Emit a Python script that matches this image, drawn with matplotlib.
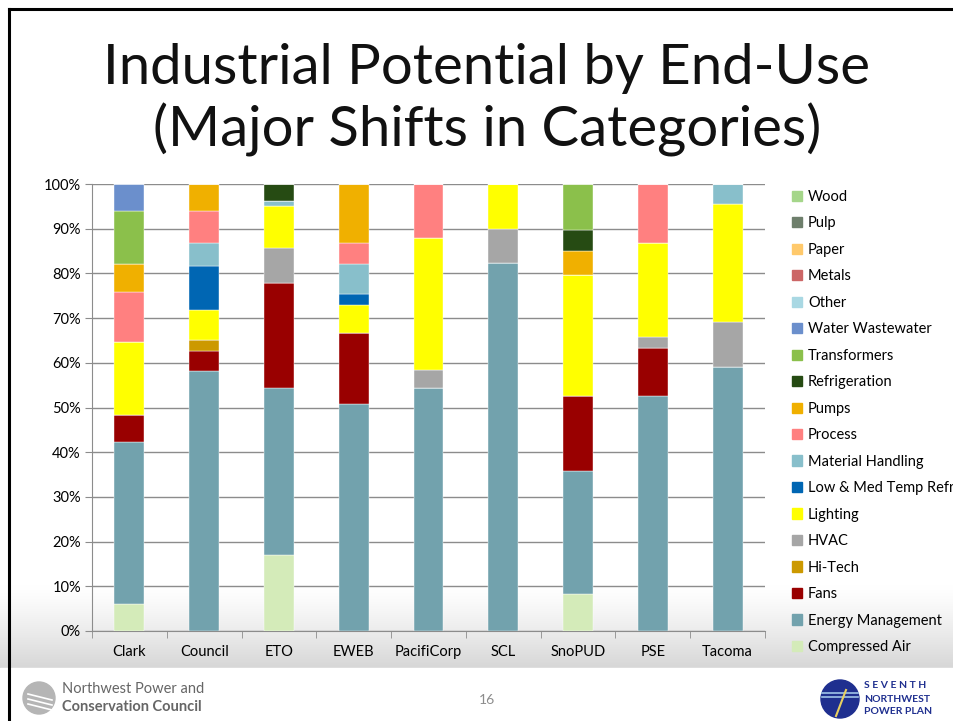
import numpy as np
import matplotlib
matplotlib.use("Agg")
import matplotlib.pyplot as plt
from matplotlib.patches import Ellipse, Rectangle

plt.rcParams['font.family'] = ['Lato', 'DejaVu Sans']

# utilities (x axis categories)
utilities = ['Clark', 'Council', 'ETO', 'EWEB', 'PacifiCorp', 'SCL', 'SnoPUD', 'PSE', 'Tacoma']

# share of potential, percent (bottom to top of each stack)
compressed_air    = [6.0, 0.0, 16.9, 0.0, 0.0, 0.0, 8.3, 0.0, 0.0]
energy_management = [36.2, 58.1, 37.4, 50.7, 54.4, 82.4, 27.5, 52.6, 59.0]
fans              = [6.1, 4.5, 23.5, 15.9, 0.0, 0.0, 16.7, 10.8, 0.0]
hi_tech           = [0.0, 2.5, 0.0, 0.0, 0.0, 0.0, 0.0, 0.0, 0.0]
hvac              = [0.0, 0.0, 7.9, 0.0, 4.0, 7.5, 0.0, 2.3, 10.2]
lighting          = [16.3, 6.8, 9.4, 6.3, 29.5, 10.1, 27.2, 21.0, 26.3]
low_med_refr      = [0.0, 9.7, 0.0, 2.5, 0.0, 0.0, 0.0, 0.0, 0.0]
material_handling = [0.0, 5.3, 1.1, 6.8, 0.0, 0.0, 0.0, 0.0, 4.5]
process           = [11.2, 7.1, 0.0, 4.7, 12.1, 0.0, 0.0, 13.3, 0.0]
pumps             = [6.2, 6.0, 0.0, 13.1, 0.0, 0.0, 5.2, 0.0, 0.0]
refrigeration     = [0.0, 0.0, 3.8, 0.0, 0.0, 0.0, 4.9, 0.0, 0.0]
transformers      = [12.0, 0.0, 0.0, 0.0, 0.0, 0.0, 10.2, 0.0, 0.0]
water_wastewater  = [6.0, 0.0, 0.0, 0.0, 0.0, 0.0, 0.0, 0.0, 0.0]
other             = [0.0, 0.0, 0.0, 0.0, 0.0, 0.0, 0.0, 0.0, 0.0]
metals            = [0.0, 0.0, 0.0, 0.0, 0.0, 0.0, 0.0, 0.0, 0.0]
paper             = [0.0, 0.0, 0.0, 0.0, 0.0, 0.0, 0.0, 0.0, 0.0]
pulp              = [0.0, 0.0, 0.0, 0.0, 0.0, 0.0, 0.0, 0.0, 0.0]
wood              = [0.0, 0.0, 0.0, 0.0, 0.0, 0.0, 0.0, 0.0, 0.0]

series_names = ['Compressed Air', 'Energy Management', 'Fans', 'Hi-Tech', 'HVAC', 'Lighting',
                'Low & Med Temp Refr', 'Material Handling', 'Process', 'Pumps', 'Refrigeration',
                'Transformers', 'Water Wastewater', 'Other', 'Metals', 'Paper', 'Pulp', 'Wood']
series_vals = [compressed_air, energy_management, fans, hi_tech, hvac, lighting, low_med_refr,
               material_handling, process, pumps, refrigeration, transformers, water_wastewater,
               other, metals, paper, pulp, wood]
series_colors = ['#d4ebb9', '#72a2ad', '#990000', '#cc9900', '#a6a6a6', '#ffff00', '#0066b3',
                 '#88bfcb', '#ff8080', '#f0b000', '#264b13', '#8bc04b', '#6b8fcc',
                 '#a9d8e3', '#cc6666', '#ffc96b', '#6e7f6c', '#a5d68a']

W, H = 954, 721
fig = plt.figure(figsize=(W / 100, H / 100), dpi=100)
fig.patch.set_facecolor('white')

# slide background gradient near the bottom
bg = fig.add_axes([0, 0, 1, 1], zorder=-10)
bg.set_xlim(0, W)
bg.set_ylim(H, 0)
bg.axis('off')
grad = np.linspace(0, 1, 200).reshape(-1, 1) ** 1.3
grad_img = 1 - 0.16 * grad
bg.imshow(np.dstack([grad_img] * 3), extent=[0, W, 668, 585], aspect='auto')
bg.add_patch(Rectangle((0, 668), W, H - 668, color='white', zorder=1))
# slide frame
bg.plot([9, W], [9, 9], color='black', lw=2.2, zorder=5)
bg.plot([9, 9], [9, H], color='black', lw=2.2, zorder=5)

# title
title_font = dict(ha='center', va='center', fontsize=40.5, color='#111111',
                  family=['Lato', 'DejaVu Sans'])
fig.text(487 / W, 1 - 68 / H, 'Industrial Potential by End-Use', **title_font)
fig.text(487 / W, 1 - 130 / H, '(Major Shifts in Categories)', **title_font)

# chart
ax = fig.add_axes([92 / W, 1 - 631 / H, (765 - 92) / W, (631 - 184) / H])
ax.patch.set_alpha(0)
x = np.arange(len(utilities))
bottom = np.zeros(len(utilities))
handles = []
for name, vals, col in zip(series_names, series_vals, series_colors):
    vals = np.array(vals)
    ax.bar(x, vals, width=0.4, bottom=bottom, color=col, edgecolor='white', linewidth=0.3,
           zorder=3)
    bottom += vals
    handles.append(Rectangle((0, 0), 1, 1, color=col, label=name))

ax.set_xlim(-0.5, len(utilities) - 0.5)
ax.set_ylim(0, 100)
ax.set_yticks(np.arange(0, 101, 10))
ax.set_yticklabels([f'{v}%' for v in range(0, 101, 10)])
ax.yaxis.grid(True, color='#8c8c8c', linewidth=1.0, zorder=0)
ax.set_xticks(x)
ax.set_xticklabels(utilities)
ax.set_xticks(np.arange(-0.5, len(utilities)), minor=True)
ax.tick_params(axis='x', which='major', length=0, pad=10, labelsize=10.5, colors='black')
ax.tick_params(axis='x', which='minor', length=5, color='#8c8c8c')
ax.tick_params(axis='y', length=5, color='#8c8c8c', labelsize=10.5, pad=3)
for s in ['top', 'right']:
    ax.spines[s].set_visible(False)
for s in ['left', 'bottom']:
    ax.spines[s].set_color('#8c8c8c')

leg = fig.legend(handles=handles[::-1], loc='upper left', bbox_to_anchor=(792 / W, 1 - 190 / H),
                 frameon=False, fontsize=10.5, handlelength=0.7, handleheight=0.7,
                 handletextpad=0.4, labelspacing=0.855, borderaxespad=0, borderpad=0)

# footer
fig.text(487 / W, 1 - 700 / H, '16', ha='center', va='center', fontsize=10, color='#8c8c8c')
bg.add_patch(Ellipse((39, 698), 32, 32, color='#b5b5b5', zorder=3))
for dy in (-4, 1, 6):
    bg.plot([28, 52], [698 + dy, 698 + dy + 6], color='white', lw=1.2, zorder=4)
fig.text(62 / W, 1 - 689 / H, 'Northwest Power and', ha='left', va='center', fontsize=10.5,
         color='#666666')
fig.text(62 / W, 1 - 707 / H, 'Conservation Council', ha='left', va='center', fontsize=10.5,
         color='#666666', weight='bold')

bg.add_patch(Ellipse((840, 699), 38, 38, color='#1f2f8f', zorder=3))
for dy in (-6, -2):
    bg.plot([822, 858], [699 + dy, 699 + dy], color='#9fc3e8', lw=1.2, zorder=4)
bg.plot([836, 846], [716, 690], color='#e8d060', lw=1.5, zorder=4)
for i, t in enumerate(['S E V E N T H', 'NORTHWEST', 'POWER PLAN']):
    fig.text(864 / W, 1 - (686 + i * 13) / H, t, ha='left', va='center', fontsize=7.5,
             color='#1f2f8f', weight='bold')

fig.savefig('out.png', dpi=100)
